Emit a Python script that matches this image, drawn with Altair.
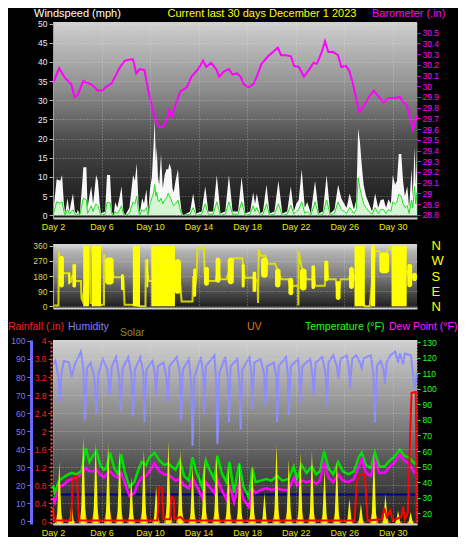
import altair as alt
import pandas as pd

# ---------------- data ----------------
day_ticks = [2, 6, 10, 14, 18, 22, 26, 30]

# wind (mph): gust (white) and average (pale green)
wind_day = [2.0, 2.3, 2.6, 2.75, 2.9, 3.0, 3.2, 3.35, 3.5, 3.65,
            3.8, 3.95, 4.05, 4.2, 4.4, 4.5, 4.75, 4.85, 5.0, 5.15,
            5.3, 5.4, 5.55, 5.7, 5.85, 5.95, 6.3, 6.45, 6.7, 6.85,
            7.0, 7.12, 7.3, 7.5, 7.65, 7.8, 7.95, 8.3, 8.6, 8.75,
            8.9, 9.05, 9.15, 9.35, 9.5, 9.7, 9.85, 10.0, 10.15, 10.3,
            10.38, 10.48, 10.55, 10.65, 10.75, 10.9, 11.05, 11.2, 11.35, 11.5,
            11.6, 11.75, 11.85, 11.95, 12.1, 12.3, 12.45, 12.6, 12.75, 13.3,
            13.55, 13.8, 14.25, 14.55, 14.8, 15.2, 15.5, 15.8, 16.2, 16.5,
            16.8, 17.25, 17.55, 17.85, 18.25, 18.5, 18.65, 18.8, 19.1, 19.3,
            19.6, 19.85, 20.25, 20.58, 20.9, 21.3, 21.6, 21.85, 22.05, 22.25,
            22.5, 22.75, 22.95, 23.25, 23.6, 23.9, 24.25, 24.55, 24.85, 25.2,
            25.5, 25.75, 26.0, 26.2, 26.45, 26.8, 27.0, 27.15, 27.3, 27.45,
            27.6, 27.8, 28.05, 28.3, 28.55, 28.8, 29.0, 29.25, 29.45, 29.65,
            29.85, 30.0, 30.2, 30.35, 30.5, 30.7, 30.85, 31.0, 31.2, 31.35,
            31.55, 31.65, 31.8, 31.9, 32.0]
wind_gust = [0, 9.4, 9.0, 10.5, 3, 0.5, 4.5, 1, 3.5, 5.7,
             1, 0.5, 1.5, 0, 8, 12.5, 12.5, 2, 5, 7.6,
             3, 5.7, 10.5, 9, 3, 0.5, 1, 10.5, 10.5, 1,
             0, 3.5, 2, 5, 7.6, 1, 0, 2, 10.5, 9,
             13.5, 3, 0.5, 4.5, 3, 6.8, 0.5, 7, 10, 19,
             25, 14, 18, 10, 8, 16, 7, 10.5, 12, 12,
             13.5, 12, 7, 6, 9, 12, 5, 1, 0, 1,
             5.7, 0.5, 1, 7.6, 1, 1, 10.5, 0.5, 1, 10.5,
             1, 1, 10, 0.5, 1, 6, 3, 5.7, 0.5, 1,
             8, 0.5, 1, 9, 0.5, 1, 7.6, 1, 3, 4,
             12, 2, 3.5, 0.5, 9, 0.5, 1, 10.5, 0.5, 1.5,
             8, 4.5, 3, 2, 5.7, 1.5, 4, 22.7, 19, 13,
             8, 5, 3, 1, 5.7, 2, 4, 4.2, 2, 4.2,
             3, 10.5, 8, 9, 16, 16, 9, 5, 7.6, 2,
             12, 5, 17.7, 8, 18]
wind_avg = [0, 3.5, 3.2, 3.5, 1, 0, 1.5, 0.3, 1, 1.5,
            0.3, 0, 0.5, 0, 3, 4.5, 4, 0.5, 1.5, 2.5,
            1, 2, 3, 2.5, 1, 0, 0.3, 3.3, 3.3, 0.3,
            0, 1, 0.5, 1.5, 2.5, 0.3, 0, 0.5, 3.5, 3,
            5, 1, 0, 1.5, 1, 2, 0, 3, 4.5, 6,
            8, 5, 6, 4, 3.5, 4.5, 3, 4, 4.5, 5.8,
            5, 4, 3, 2.5, 3, 4, 2, 0.3, 0, 0.3,
            2, 0, 0.3, 3, 0.3, 0.3, 3.5, 0, 0.3, 3.5,
            0.3, 0.3, 3.5, 0, 0.3, 2.5, 1, 2, 0, 0.3,
            3, 0, 0.3, 3, 0, 0.3, 2.6, 0.3, 1, 1.5,
            3.5, 0.5, 1, 0, 3.5, 0, 0.3, 4, 0, 0.5,
            3.5, 1.5, 1, 0.5, 2, 0.5, 1.5, 9.8, 7, 5,
            3, 2, 1, 0.3, 2, 0.5, 1.5, 1.5, 0.5, 1.5,
            1, 3.5, 3, 3.5, 5.5, 5, 3, 2, 2.5, 0.5,
            4, 2, 7.5, 3, 6]

# barometer (in)
baro_day = [2.0, 2.51, 2.97, 3.50, 3.77, 4.04, 4.49, 4.84, 5.11, 5.46,
            5.64, 6.05, 6.45, 6.85, 7.12, 7.53, 7.93, 8.33, 8.60, 8.86,
            9.14, 9.54, 9.80, 10.13, 10.47, 10.77, 11.09, 11.41, 11.57, 11.81,
            12.08, 12.48, 13.02, 13.42, 13.96, 14.37, 14.63, 15.03, 15.44, 15.70,
            16.10, 16.51, 16.78, 17.18, 17.45, 17.71, 18.11, 18.52, 18.79, 19.19,
            19.72, 20.13, 20.53, 20.80, 21.20, 21.61, 21.87, 22.27, 22.68, 23.08,
            23.48, 23.75, 24.15, 24.42, 24.69, 25.09, 25.49, 25.76, 26.16, 26.43,
            26.70, 26.96, 27.24, 27.64, 28.04, 28.44, 28.85, 29.25, 29.65, 30.18,
            30.58, 30.86, 31.12, 31.39, 31.66, 31.93, 32.0]
baro_in = [30.03, 30.17, 30.08, 30.02, 29.90, 29.92, 30.05, 30.03, 30.02, 29.99,
           29.96, 29.96, 30.00, 30.03, 30.09, 30.18, 30.24, 30.25, 30.25, 30.12,
           30.16, 30.15, 29.99, 29.82, 29.68, 29.62, 29.62, 29.70, 29.78, 29.72,
           29.82, 29.95, 29.99, 30.09, 30.16, 30.24, 30.18, 30.22, 30.16, 30.09,
           30.14, 30.16, 30.11, 30.12, 30.09, 30.02, 29.99, 30.02, 30.09, 30.21,
           30.28, 30.32, 30.36, 30.29, 30.29, 30.28, 30.19, 30.18, 30.09, 30.15,
           30.22, 30.21, 30.32, 30.42, 30.32, 30.32, 30.29, 30.18, 30.19, 30.14,
           30.03, 29.90, 29.76, 29.82, 29.90, 29.96, 29.90, 29.85, 29.89, 29.89,
           29.90, 29.85, 29.83, 29.73, 29.60, 29.70, 29.73]

# wind direction (degrees)
dir_day = [2.0, 2.45, 2.48, 2.55, 2.7, 2.95, 3.35, 3.45, 3.6, 3.9,
           4.3, 4.35, 4.45, 5.0, 5.1, 5.96, 6.2, 6.22, 6.4, 6.95,
           7.0, 7.8, 7.9, 8.5, 9.2, 9.62, 9.65, 9.8, 9.9, 10.1,
           12.05, 12.3, 12.5, 12.6, 13.5, 13.55, 13.7, 13.85, 13.9, 14.45,
           14.5, 14.85, 15.4, 15.6, 15.8, 16.3, 16.6, 16.9, 17.6, 17.75,
           17.8, 18.6, 18.85, 18.9, 18.95, 19.1, 19.5, 19.7, 20.3, 20.5,
           20.8, 21.4, 21.6, 21.8, 22.2, 22.22, 22.24, 22.3, 22.5, 22.9,
           23.4, 23.5, 23.6, 24.4, 24.55, 24.7, 25.3, 25.5, 25.7, 26.4,
           26.6, 26.8, 27.7, 28.1, 28.55, 28.9, 29.2, 29.7, 29.9, 31.2,
           31.4, 31.6, 32.0]
dir_deg = [5, 5, 328, 250, 206, 197, 197, 140, 180, 150,
           150, 47, 30, 350, 20, 10, 10, 310, 215, 200,
           172, 172, 10, 10, 0, 0, 280, 200, 150, 150,
           250, 200, 120, 28, 28, 180, 100, 200, 347, 347,
           200, 150, 150, 220, 160, 160, 230, 285, 285, 200,
           170, 170, 150, 20, 340, 300, 300, 253, 253, 220,
           160, 160, 100, 122, 122, 5, 330, 300, 230, 160,
           160, 220, 122, 122, 240, 160, 160, 60, 160, 160,
           220, 180, 0, 0, 328, 328, 280, 347, 347, 200,
           160, 180, 170]
# periods of rapid fluctuation (range of directions)
blob_start = [2.5, 3.25, 3.6, 6.3, 7.6, 9.7, 12.0, 13.55, 14.45, 15.4,
              16.4, 17.55, 18.45, 19.15, 20.3, 21.4, 22.35, 23.3, 24.35, 25.3,
              26.4, 28.9, 31.2, 31.6]
blob_end = [2.9, 3.4, 3.9, 7.0, 7.85, 9.85, 12.55, 13.8, 14.85, 15.8,
            16.9, 17.8, 18.75, 19.7, 20.75, 21.8, 22.9, 23.6, 24.7, 25.7,
            26.8, 29.7, 31.6, 32.0]
blob_lo = [112, 130, 112, 130, 95, 112, 75, 56, 122, 140,
           131, 112, 85, 170, 112, 66, 94, 103, 150, 38,
           103, 197, 113, 150]
blob_hi = [300, 200, 253, 290, 190, 280, 280, 225, 235, 290,
           290, 253, 206, 290, 225, 169, 225, 244, 272, 150,
           234, 319, 253, 200]
# periods of northerly wind flipping between 0 and 360
block_start = [4.49, 5.18, 8.58, 10.1, 26.85, 28.2, 29.9]
block_end = [4.97, 5.96, 9.17, 12.05, 27.7, 28.55, 31.15]

# humidity (%)
hum_day = [2.0, 2.2, 2.45, 2.57, 2.7, 2.9, 3.3, 3.55, 3.8, 4.3,
           4.5, 4.62, 4.8, 5.1, 5.4, 5.58, 5.75, 6.1, 6.5, 6.67,
           6.85, 7.2, 7.45, 7.57, 7.75, 8.2, 8.45, 8.58, 8.75, 9.2,
           9.45, 9.54, 9.7, 10.2, 10.4, 10.5, 10.65, 11.1, 11.35, 11.45,
           11.6, 12.2, 12.45, 12.55, 12.7, 13.2, 13.4, 13.5, 13.65, 14.2,
           14.4, 14.46, 14.6, 15.3, 15.45, 15.55, 15.7, 16.2, 16.4, 16.5,
           16.65, 17.2, 17.38, 17.46, 17.6, 18.2, 18.35, 18.42, 18.6, 19.1,
           19.4, 19.5, 19.65, 20.2, 20.4, 20.47, 20.6, 21.2, 21.35, 21.43,
           21.6, 22.2, 22.3, 22.38, 22.55, 23.2, 23.4, 23.48, 23.65, 24.2,
           24.45, 24.57, 24.7, 25.1, 25.4, 25.52, 25.7, 26.2, 26.4, 26.48,
           26.65, 27.0, 27.3, 27.44, 27.6, 27.8, 28.2, 28.4, 28.53, 28.7,
           29.0, 29.25, 29.35, 29.5, 29.8, 30.2, 30.44, 30.6, 30.85, 31.0,
           31.5, 31.8, 32.0]
hum_pct = [87, 89, 80, 66, 82, 89, 88, 80, 87, 94,
           85, 56, 85, 88, 80, 60, 82, 90, 84, 70,
           86, 91, 80, 61, 85, 91, 82, 58, 84, 91,
           82, 55, 84, 89, 82, 69, 86, 88, 80, 66,
           86, 91, 82, 56, 84, 90, 75, 42, 80, 91,
           80, 60, 86, 92, 78, 43, 82, 91, 80, 55,
           86, 90, 75, 51, 84, 91, 82, 62, 88, 90,
           82, 64, 86, 88, 80, 55, 86, 91, 82, 59,
           86, 90, 82, 66, 86, 90, 80, 70, 88, 91,
           82, 64, 88, 92, 86, 79, 90, 92, 84, 74,
           90, 92, 88, 85, 90, 91, 92, 82, 55, 86,
           89, 84, 76, 88, 92, 94, 88, 93, 87, 93,
           92, 73, 82]

# temperature and dew point (F)
th_day = [2.0, 2.15, 2.5, 2.85, 3.25, 3.55, 3.9, 4.35, 4.7, 5.0,
          5.3, 5.58, 5.9, 6.2, 6.4, 6.7, 7.05, 7.35, 7.63, 7.9,
          8.3, 8.7, 8.99, 9.3, 9.68, 9.95, 10.36, 10.77, 11.18, 11.5,
          11.8, 12.1, 12.45, 12.8, 13.2, 13.5, 13.8, 14.3, 14.6, 14.9,
          15.3, 15.55, 15.9, 16.3, 16.55, 16.92, 17.35, 17.7, 18.15, 18.42,
          18.7, 19.1, 19.6, 20.0, 20.47, 20.9, 21.43, 21.84, 22.1, 22.5,
          22.9, 23.34, 23.7, 24.0, 24.35, 24.7, 25.1, 25.5, 25.9, 26.35,
          26.8, 27.2, 27.44, 27.8, 28.2, 28.53, 28.9, 29.35, 29.75, 30.1,
          30.58, 30.95, 31.3, 31.81, 32.0]
temp_f = [38, 33, 41, 43, 45, 46, 45, 47, 62, 53,
          57, 60, 51, 48, 49, 59, 49, 45, 58, 47,
          37, 40, 47, 53, 51, 56, 59, 54, 51, 52,
          50, 48, 54, 44, 41, 56, 47, 37, 54, 48,
          42, 57, 46, 40, 53, 33, 52, 37, 30, 49,
          40, 41, 42, 41, 44, 41, 42, 50, 42, 51,
          46, 50, 45, 47, 60, 49, 45, 53, 47, 45,
          47, 56, 59, 51, 49, 59, 50, 50, 54, 56,
          61, 57, 56, 52, 53]
dew_f = [30, 27, 37, 38, 41, 42, 43, 45, 49, 47,
         47, 48, 45, 43, 45, 47, 44, 43, 46, 40,
         31, 33, 39, 43, 44, 47, 52, 47, 45, 45,
         43, 41, 42, 38, 36, 43, 38, 30, 40, 37,
         33, 42, 35, 29, 38, 27, 40, 29, 24, 36,
         33, 35, 36, 35, 36, 35, 35, 43, 38, 41,
         40, 41, 39, 41, 53, 43, 40, 45, 41, 40,
         42, 50, 55, 46, 44, 54, 46, 46, 50, 52,
         58, 54, 52, 46, 47]

# rainfall (in)
rain_day = [2.0, 2.1, 3.5, 3.62, 3.8, 3.99, 4.13, 10.6, 10.75, 11.0,
            11.1, 11.65, 11.75, 11.95, 12.0, 12.5, 12.8, 26.85, 27.05, 27.3,
            27.7, 27.93, 29.1, 29.3, 29.5, 29.8, 30.0, 30.7, 30.85, 31.0,
            31.25, 31.45, 31.55, 31.9, 31.97, 32.0]
rain_in = [0.3, 0.02, 0.02, 0.9, 1.0, 1.0, 0.02, 0.02, 0.75, 0.75,
           0.05, 0.05, 0.55, 0.5, 0.05, 0.1, 0.02, 0.02, 0.9, 1.05,
           1.05, 0.02, 0.05, 0.3, 0.1, 0.25, 0.02, 0.1, 0.33, 0.05,
           0.2, 2.0, 2.85, 2.87, 0.0, 0.0]

# daily solar peak (W/m2) and UV index at solar noon
solar_day = [2.52, 3.53, 4.49, 5.52, 6.54, 7.49, 8.45, 9.49, 10.5, 11.51,
             12.49, 13.5, 14.46, 15.47, 16.45, 17.38, 18.42, 19.43, 20.42, 21.43,
             22.38, 23.34, 24.38, 25.39, 26.43, 27.38, 28.45, 29.4, 30.44, 31.48]
solar_wm2 = [342, 117, 477, 441, 441, 400, 260, 405, 207, 450,
             405, 324, 351, 378, 315, 340, 326, 170, 434, 353,
             389, 398, 299, 344, 137, 110, 389, 164, 74, 65]
uv_index = [0.9, 0.3, 1.2, 1.1, 1.1, 1.0, 0.7, 1.0, 0.5, 1.1,
            1.0, 0.8, 0.9, 0.9, 0.8, 0.8, 0.8, 0.4, 1.0, 0.9,
            0.9, 0.9, 0.7, 0.8, 0.3, 0.3, 0.9, 0.4, 0.2, 0.2]

wind_ticks = [0, 5, 10, 15, 20, 25, 30, 35, 40, 45, 50]
baro_ticks = [28.8, 28.9, 29.0, 29.1, 29.2, 29.3, 29.4, 29.5, 29.6, 29.7,
              29.8, 29.9, 30.0, 30.1, 30.2, 30.3, 30.4, 30.5]
dir_ticks = [0, 90, 180, 270, 360]
hum_ticks = [0, 10, 20, 30, 40, 50, 60, 70, 80, 90, 100]
rain_ticks = [0, 0.4, 0.8, 1.2, 1.6, 2, 2.4, 2.8, 3.2, 3.6, 4]
temp_ticks = [20, 30, 40, 50, 60, 70, 80, 90, 100, 110, 120, 130]

# ---------------- frames ----------------
wind_df = pd.DataFrame(list(zip(wind_day, wind_gust, wind_avg)), columns=["day", "gust", "avg"])
baro_df = pd.DataFrame(list(zip(baro_day, baro_in)), columns=["day", "baro"])
dir_df = pd.DataFrame(list(zip(dir_day, dir_deg)), columns=["day", "deg"])
blob_df = pd.DataFrame(list(zip(blob_start, blob_end, blob_lo, blob_hi)), columns=["start", "end", "lo", "hi"])
block_df = pd.DataFrame(list(zip(block_start, block_end)), columns=["start", "end"])
hum_df = pd.DataFrame(list(zip(hum_day, hum_pct)), columns=["day", "hum"])
th_df = pd.DataFrame(list(zip(th_day, temp_f, dew_f)), columns=["day", "temp", "dew"])
rain_df = pd.DataFrame(list(zip(rain_day, rain_in)), columns=["day", "rain"])

SOLAR_HALF = 0.2
UV_HALF = 0.3
solar_rows = [(2.0, 0.0)]
uv_rows = [(2.0, 0.0)]
for d, s, u in zip(solar_day, solar_wm2, uv_index):
    solar_rows += [(d - SOLAR_HALF, 0.0), (d, s), (d + SOLAR_HALF, 0.0)]
    uv_rows += [(d - UV_HALF, 0.0), (d, u), (d + UV_HALF, 0.0)]
solar_rows.append((32.0, 0.0))
uv_rows.append((32.0, 0.0))
solar_df = pd.DataFrame(solar_rows, columns=["day", "solar"])
uv_df = pd.DataFrame(uv_rows, columns=["day", "uv"])

# ---------------- styling ----------------
FONT = "Liberation Sans"
W = 364
H1, H2, H3 = 196, 64, 184
XS = alt.Scale(domain=[2, 32], nice=False, zero=False)
GRID = dict(grid=True, gridColor="#e8e8e8", gridDash=[1, 2], gridOpacity=0.45, zindex=1)


def bg(h, stops):
    return alt.Chart(pd.DataFrame({"k": [0]})).mark_rect(
        fill={"gradient": "linear", "x1": 0, "y1": 0, "x2": 0, "y2": 1,
              "stops": [{"offset": o, "color": c} for o, c in stops]},
    ).encode(x=alt.value(0), x2=alt.value(W), y=alt.value(0), y2=alt.value(h))


def label(text, x, y, color, align="left", size=11):
    return alt.Chart(pd.DataFrame({"t": [text]})).mark_text(
        align=align, baseline="middle", color=color, fontSize=size, font=FONT
    ).encode(x=alt.value(x), y=alt.value(y), text="t:N")


def day_axis(show):
    return alt.Axis(values=day_ticks, labelExpr="'Day ' + datum.value", labels=show,
                    labelColor="#e8e800", labelFontSize=9, labelFont=FONT, labelPadding=4,
                    labelFlush=False, ticks=False, domainColor="#d0d0d0", domainWidth=2,
                    title=None, **GRID)


def xenc(field, show=True):
    return alt.X(f"{field}:Q", scale=XS, axis=day_axis(show))


# ---------------- top panel: wind + barometer ----------------
wind_scale = alt.Scale(domain=[-0.7, 50.4], nice=False, zero=False)
wind_axis = alt.Axis(values=wind_ticks, orient="left", labelColor="#e8e8ff", labelFontSize=8.5,
                     labelFont=FONT, tickColor="#b0b0b0", tickSize=4, domainColor="#a0a0a0",
                     title=None, labelPadding=2, labelFlush=False, **GRID)
baro_axis = alt.Axis(values=baro_ticks, orient="right", format=".1~f", labelColor="#ff00ff",
                     labelFontSize=8.5, labelFont=FONT, tickColor="#ff00ff", tickSize=3,
                     domainColor="#ff00ff", domainDash=[1, 1], title=None, grid=False,
                     labelPadding=2, labelFlush=False, zindex=1)

bg1 = bg(H1, [(0, "#d0d0d0"), (0.35, "#8c8c8c"), (0.6, "#4c4c4c"), (0.85, "#282828"), (1, "#1a1a1a")])
gust_area = alt.Chart(wind_df).mark_area(color="#ffffff", opacity=0.97).encode(
    x=xenc("day"), y=alt.Y("gust:Q", scale=wind_scale, axis=wind_axis))
avg_area = alt.Chart(wind_df).mark_area(
    color="#c6f5c6", line={"color": "#22dd22", "strokeWidth": 1}).encode(
    x=xenc("day"), y=alt.Y("avg:Q", scale=wind_scale, axis=None))
baro_line = alt.Chart(baro_df).mark_line(color="#ff00ff", strokeWidth=2).encode(
    x=xenc("day"),
    y=alt.Y("baro:Q", scale=alt.Scale(domain=[28.77, 30.6], nice=False, zero=False), axis=baro_axis))

top = alt.layer(
    bg1, gust_area, avg_area, baro_line,
    label("Windspeed (mph)", -19, -8, "#ffffff"),
    label("Current last 30 days December 1 2023", 209, -8, "#ffff00", align="center"),
    label("Barometer (.in)", 319, -8, "#ff00ff"),
).resolve_scale(y="independent").properties(width=W, height=H1)

# ---------------- middle panel: wind direction ----------------
dir_scale = alt.Scale(domain=[-10, 370], nice=False, zero=False)
dir_left = alt.Axis(values=dir_ticks, orient="left", labelColor="#d8d840", labelFontSize=8.5,
                    labelFont=FONT, tickColor="#d8d840", tickSize=4, domainColor="#a0a0a0",
                    title=None, labelPadding=2, labelFlush=False, **GRID)
dir_right = alt.Axis(values=dir_ticks, orient="right", labelColor="#ffff00", labelFontSize=13,
                     labelFont=FONT, ticks=False, domain=False, grid=False, title=None,
                     labelPadding=14, labelFlush=False, labelOverlap=False,
                     labelExpr="datum.value == 90 ? 'E' : datum.value == 180 ? 'S' : datum.value == 270 ? 'W' : 'N'")

bg2 = bg(H2, [(0, "#d8d8d8"), (0.12, "#b4b4b4"), (0.5, "#7c7c7c"), (1, "#1c1c1c")])
dir_line = alt.Chart(dir_df).mark_line(color="#e6e600", strokeWidth=2, opacity=0.9).encode(
    x=xenc("day", False), y=alt.Y("deg:Q", scale=dir_scale, axis=dir_left))
blocks = alt.Chart(block_df).mark_rect(color="#ffff00").encode(
    x=xenc("start", False), x2="end:Q",
    y=alt.YDatum(0, type="quantitative", scale=dir_scale, axis=None), y2=alt.Y2Datum(360))
blobs = alt.Chart(blob_df).mark_rect(color="#ffff00", cornerRadius=3).encode(
    x=xenc("start", False), x2="end:Q",
    y=alt.Y("lo:Q", scale=dir_scale, axis=dir_right), y2="hi:Q")

mid = alt.layer(bg2, dir_line, blocks, blobs).resolve_scale(y="independent").properties(width=W, height=H2)

# ---------------- bottom panel ----------------
hum_axis = alt.Axis(values=hum_ticks, orient="left", offset=22, labelColor="#7878ff", labelFontSize=8.5,
                    labelFont=FONT, tickColor="#7878ff", tickSize=4, domainColor="#6a6aff", domainWidth=3,
                    title=None, labelPadding=2, labelFlush=False, **GRID)
rain_axis = alt.Axis(values=rain_ticks, orient="left", offset=2, format="~g", labelColor="#ff2020",
                     labelFontSize=8.5, labelFont=FONT, tickColor="#ff2020", tickSize=3,
                     domainColor="#ff5050", domainDash=[2, 2], domainWidth=2, title=None, grid=False,
                     labelPadding=2, labelFlush=False, zindex=1)
temp_axis = alt.Axis(values=temp_ticks, orient="right", labelColor="#20ff20", labelFontSize=8.5,
                     labelFont=FONT, tickColor="#20ff20", tickSize=3, domainColor="#20ff20",
                     domainDash=[1, 2], title=None, grid=False, labelPadding=2, labelFlush=False, zindex=1)
temp_scale = alt.Scale(domain=[13.1, 131.4], nice=False, zero=False)

bg3 = bg(H3, [(0, "#d0d0d0"), (0.4, "#8c8c8c"), (0.7, "#4e4e4e"), (1, "#222222")])
freeze = alt.Chart(pd.DataFrame({"k": [0]})).mark_rule(color="#000080", strokeWidth=2).encode(
    y=alt.YDatum(32, type="quantitative", scale=temp_scale, axis=None))
hum_line = alt.Chart(hum_df).mark_line(color="#8c8cff", strokeWidth=2).encode(
    x=xenc("day"), y=alt.Y("hum:Q", scale=alt.Scale(domain=[-1.4, 100.5], nice=False, zero=False), axis=hum_axis))
temp_line = alt.Chart(th_df).mark_line(color="#00e000", strokeWidth=2.5).encode(
    x=xenc("day"), y=alt.Y("temp:Q", scale=temp_scale, axis=temp_axis))
dew_line = alt.Chart(th_df).mark_line(color="#ff00ff", strokeWidth=2.5).encode(
    x=xenc("day"), y=alt.Y("dew:Q", scale=temp_scale, axis=None))
uv_area = alt.Chart(uv_df).mark_area(color="#e07a10", opacity=0.85,
                                     line={"color": "#f08a00", "strokeWidth": 1.5}).encode(
    x=xenc("day"), y=alt.Y("uv:Q", scale=alt.Scale(domain=[0, 10], nice=False), axis=None))
solar_area = alt.Chart(solar_df).mark_area(color="#ffff00", opacity=0.95).encode(
    x=xenc("day"), y=alt.Y("solar:Q", scale=alt.Scale(domain=[0, 1000], nice=False), axis=None))
rain_line = alt.Chart(rain_df).mark_line(color="#ff0000", strokeWidth=2).encode(
    x=xenc("day"), y=alt.Y("rain:Q", scale=alt.Scale(domain=[-0.055, 4.02], nice=False, zero=False), axis=rain_axis))

bot = alt.layer(
    bg3, freeze, hum_line, temp_line, dew_line, uv_area, solar_area, rain_line,
    label("Rainfall (.in)", -45, -13, "#ff2020", size=10.5),
    label("Humidity", 15, -13, "#8080ff", size=10.5),
    label("Solar", 67, -7, "#8c8c20", size=10.5),
    label("UV", 194, -13, "#e07a10", size=10.5),
    label("Temperature (°F)", 252, -13, "#20ff20", size=10.5),
    label("Dew Point (°F)", 336, -13, "#ff20ff", size=10.5),
).resolve_scale(y="independent").properties(width=W, height=H3)

chart = alt.vconcat(top, mid, bot, spacing=8).properties(
    padding={"left": 0, "top": 0, "right": 0, "bottom": 0}
).configure(background="#000000").configure_view(stroke=None)

chart.save("out.html", embed_options={"renderer": "svg", "actions": False})
